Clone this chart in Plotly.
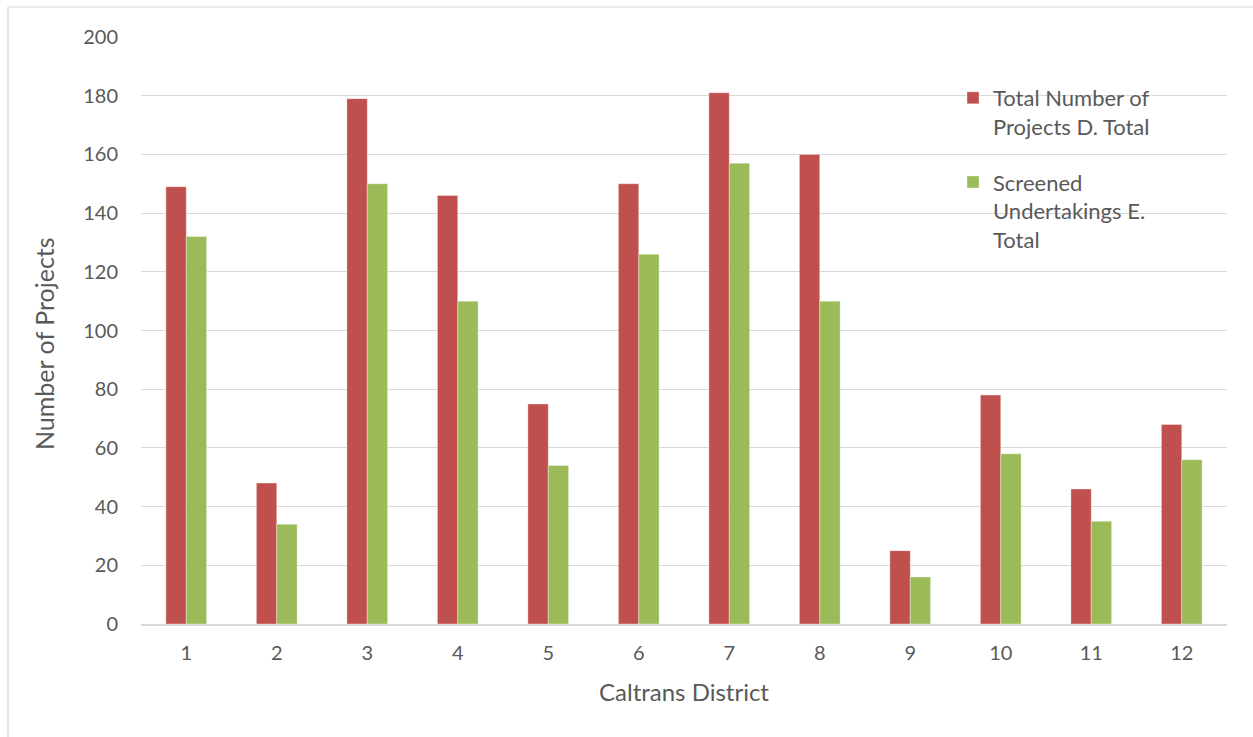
import plotly.graph_objects as go

districts = ["1", "2", "3", "4", "5", "6", "7", "8", "9", "10", "11", "12"]
total_projects = [149, 48, 179, 146, 75, 150, 181, 160, 25, 78, 46, 68]
screened = [132, 34, 150, 110, 54, 126, 157, 110, 16, 58, 35, 56]
y_ticks = [0, 20, 40, 60, 80, 100, 120, 140, 160, 180, 200]

FONT = "Lato, Open Sans, sans-serif"
GRAY = "#595959"

fig = go.Figure()
fig.add_trace(go.Bar(
    x=districts, y=total_projects,
    name="Total Number of<br>Projects D. Total",
    marker=dict(color="#C0504D", line=dict(color="rgba(255,255,255,0.6)", width=0.6)),
    legendgroup="a",
))
fig.add_trace(go.Bar(
    x=districts, y=screened,
    name="Screened<br>Undertakings E.<br>Total",
    marker=dict(color="#9BBB59", line=dict(color="rgba(255,255,255,0.6)", width=0.6)),
    legendgroup="b",
))

L, R, T, B = 141, 26, 37, 113
W, H = 1253, 737
pw, ph = W - L - R, H - T - B

def px(x):
    return (x - L) / pw

def py(y):
    return (H - B - y) / ph

fig.update_layout(
    width=W, height=H,
    margin=dict(l=L, r=R, t=T, b=B, pad=0),
    paper_bgcolor="white", plot_bgcolor="white",
    barmode="group", bargap=0.55, bargroupgap=0,
    font=dict(family=FONT, color=GRAY, size=20),
    showlegend=True,
    legend=dict(
        x=px(953), y=py(77), xanchor="left", yanchor="top",
        bgcolor="rgba(0,0,0,0)", font=dict(size=22, color=GRAY, family=FONT),
        tracegroupgap=24, itemwidth=30, valign="top",
    ),
    xaxis=dict(
        type="category", showgrid=False, showline=True, linecolor="#D9D9D9", linewidth=1.5,
        ticks="", tickfont=dict(size=20, color=GRAY),
        title=dict(text="Caltrans District", font=dict(size=24, color=GRAY), standoff=21),
        ticklabelstandoff=10,
    ),
    yaxis=dict(
        range=[0, 200], tickvals=y_ticks, showgrid=True, gridcolor="#D9D9D9", gridwidth=1.3,
        zeroline=False, showline=False, ticks="",
        tickfont=dict(size=20, color=GRAY),
        ticklabelstandoff=22,
    ),
    annotations=[dict(
        text="Number of Projects", xref="paper", yref="paper",
        x=px(44), y=py(344), xanchor="center", yanchor="middle",
        textangle=-90, showarrow=False, font=dict(size=25, color=GRAY, family=FONT),
    )],
    shapes=[dict(
        type="path", xref="paper", yref="paper",
        path=f"M {px(8)} {py(737)} L {px(8)} {py(7)} L {px(1253)} {py(7)}",
        line=dict(color="#D9D9D9", width=1.2),
    )],
)

fig.write_html("out.html")
